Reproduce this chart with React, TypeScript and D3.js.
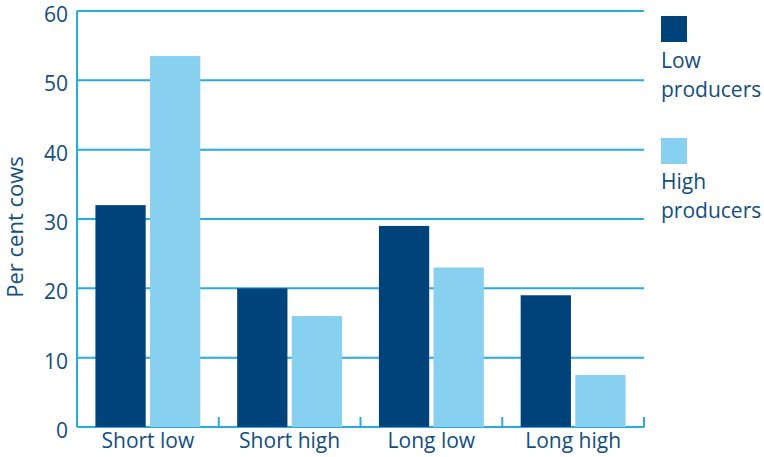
import { useMemo } from "react";
import * as d3 from "d3";

const categories = ["Short low", "Short high", "Long low", "Long high"];
const seriesNames = ["Low producers", "High producers"];
const lowProducers = [32, 20, 29, 19];
const highProducers = [53.5, 16, 23, 7.5];
const yTicks = [0, 10, 20, 30, 40, 50, 60];

const WIDTH = 764;
const HEIGHT = 457;
const PLOT = { left: 77, right: 644, top: 11, bottom: 427 };

const DARK = "#00437a";
const LIGHT = "#88d0f0";
const GRID = "#29abe2";
const TEXT = "#124e80";
const FONT = "'Open Sans', 'Noto Sans', sans-serif";

export default function App() {
  const series = [lowProducers, highProducers];
  const colors = [DARK, LIGHT];

  const x0 = useMemo(
    () =>
      d3
        .scaleBand<string>()
        .domain(categories)
        .range([PLOT.left, PLOT.right])
        .paddingInner(0.26)
        .paddingOuter(0.13),
    []
  );
  const x1 = d3
    .scaleBand<string>()
    .domain(seriesNames)
    .range([0, x0.bandwidth()])
    .paddingInner(0.08);
  const y = d3.scaleLinear().domain([0, 60]).range([PLOT.bottom, PLOT.top]);

  const step = x0.step();

  return (
    <svg
      width={WIDTH}
      height={HEIGHT}
      style={{ position: "absolute", left: 0, top: 0, fontFamily: FONT }}
    >
      {/* grid lines */}
      {yTicks.map((t) => (
        <line
          key={t}
          x1={PLOT.left}
          x2={PLOT.right}
          y1={y(t)}
          y2={y(t)}
          stroke={GRID}
          strokeWidth={2}
        />
      ))}
      {/* y axis */}
      <line x1={PLOT.left} x2={PLOT.left} y1={y(60)} y2={y(0)} stroke={GRID} strokeWidth={2} />
      {yTicks.map((t) => (
        <text
          key={t}
          x={68}
          y={y(t) + 3}
          textAnchor="end"
          dominantBaseline="central"
          fontSize={21}
          fill={TEXT}
        >
          {t}
        </text>
      ))}
      <text
        transform={`translate(14, ${(y(0) + y(60)) / 2 + 8}) rotate(-90)`}
        textAnchor="middle"
        dominantBaseline="central"
        fontSize={22}
        fill={TEXT}
      >
        Per cent cows
      </text>

      {/* bars */}
      {categories.map((c, i) => (
        <g key={c} transform={`translate(${x0(c)},0)`}>
          {series.map((s, j) => (
            <rect
              key={j}
              x={x1(seriesNames[j])}
              y={y(s[i])}
              width={x1.bandwidth()}
              height={y(0) - y(s[i])}
              fill={colors[j]}
            />
          ))}
        </g>
      ))}

      {/* category ticks */}
      {d3.range(categories.length + 1).map((k) => (
        <line
          key={k}
          x1={PLOT.left + k * step}
          x2={PLOT.left + k * step}
          y1={y(0) - 10}
          y2={y(0)}
          stroke={GRID}
          strokeWidth={2}
        />
      ))}
      {categories.map((c) => (
        <text
          key={c}
          x={(x0(c) ?? 0) + x0.bandwidth() / 2}
          y={448}
          textAnchor="middle"
          fontSize={21}
          fill={TEXT}
        >
          {c}
        </text>
      ))}

      {/* legend */}
      <rect x={661} y={16} width={26} height={26} fill={DARK} />
      <text x={661} y={68} fontSize={21} fill={TEXT}>Low</text>
      <text x={661} y={97} fontSize={21} fill={TEXT}>producers</text>
      <rect x={661} y={138} width={26} height={26} fill={LIGHT} />
      <text x={661} y={189} fontSize={21} fill={TEXT}>High</text>
      <text x={661} y={218} fontSize={21} fill={TEXT}>producers</text>
    </svg>
  );
}
